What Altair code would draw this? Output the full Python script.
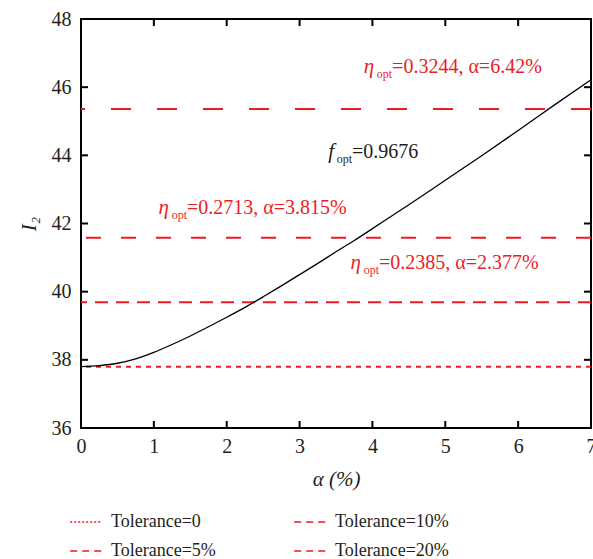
import altair as alt
import pandas as pd

# ---- data ----
alpha = [0, 0.25, 0.5, 0.75, 1, 1.25, 1.5, 1.75, 2, 2.25, 2.5, 2.75, 3, 3.25,
         3.5, 3.75, 4, 4.5, 5, 5.5, 6, 6.5, 7]
I2 = [37.80, 37.83, 37.90, 38.03, 38.22, 38.45, 38.70, 38.97, 39.25, 39.54,
      39.85, 40.17, 40.50, 40.83, 41.17, 41.50, 41.85, 42.55, 43.27, 43.99,
      44.73, 45.48, 46.22]

tol_names = ["Tolerance=0", "Tolerance=5%", "Tolerance=10%", "Tolerance=20%"]
tol_values = [37.80, 39.69, 41.58, 45.36]
dash_range = [[5, 5], [13, 8], [15, 20], [20, 26]]
legend_dash = [[2, 2], [7, 5], [7, 5], [7, 5]]

ann_x = [4.27, 3.72, 1.455, 4.09]
ann_y = [46.6, 44.1, 42.46, 40.84]
ann_sym = ["η", "f", "η", "η"]
ann_rest = ["=0.3244, α=6.42%", "=0.9676", "=0.2713, α=3.815%", "=0.2385, α=2.377%"]
ann_color = ["#ec1c24", "#231f20", "#ec1c24", "#ec1c24"]

x_ticks = [0, 1, 2, 3, 4, 5, 6, 7]
y_ticks = [36, 38, 40, 42, 44, 46, 48]

RED = "#ec1c24"
INK = "#231f20"
FONT = "Liberation Serif"
W, H = 510, 409

curve = pd.DataFrame({"a": alpha, "I": I2})
tol = pd.DataFrame({"name": tol_names, "I": tol_values})
ann = pd.DataFrame({"a": ann_x, "I": ann_y, "sym": ann_sym, "rest": ann_rest, "c": ann_color})
xt = pd.DataFrame({"a": x_ticks})
yt = pd.DataFrame({"I": y_ticks})

xscale = alt.Scale(domain=[0, 7], nice=False, zero=False)
yscale = alt.Scale(domain=[36, 48], nice=False, zero=False)
xaxis = alt.Axis(title="α (%)", values=x_ticks, format="d", domain=False, ticks=False,
                 grid=False, labelFont=FONT, labelFontSize=20, labelColor=INK,
                 labelFlush=False, labelPadding=8, titleFont=FONT, titleFontSize=21,
                 titleColor=INK, titleFontWeight="normal", titleFontStyle="italic",
                 titlePadding=12)
yaxis = alt.Axis(title="I₂", values=y_ticks, format="d", domain=False, ticks=False,
                 grid=False, labelFont=FONT, labelFontSize=20, labelColor=INK,
                 labelFlush=False, labelPadding=10, titleFont=FONT, titleFontSize=21,
                 titleColor=INK, titleFontWeight="normal", titleFontStyle="italic",
                 titlePadding=12)
X = alt.X("a:Q", scale=xscale, axis=xaxis)
Y = alt.Y("I:Q", scale=yscale, axis=yaxis)

line = alt.Chart(curve).mark_line(color="black", strokeWidth=1.3, interpolate="monotone").encode(x=X, y=Y)

rules = alt.Chart(tol).mark_rule(color=RED, strokeWidth=2).encode(
    y=Y,
    strokeDash=alt.StrokeDash("name:N", scale=alt.Scale(domain=tol_names, range=dash_range),
                              legend=None),
)

legend_layer = alt.Chart(tol).mark_rule(color=RED, strokeWidth=0, opacity=0).encode(
    y=Y,
    strokeDash=alt.StrokeDash(
        "name:N",
        scale=alt.Scale(domain=tol_names, range=legend_dash),
        legend=alt.Legend(title=None, orient="none", legendX=-12, legendY=486,
                          columns=2, columnPadding=74, rowPadding=3,
                          symbolType="stroke", symbolSize=1000,
                          symbolStrokeColor=RED, symbolStrokeWidth=1.6,
                          symbolOpacity=1,
                          labelFont=FONT, labelFontSize=18, labelColor=INK,
                          labelOffset=8),
    ),
)

t_bottom = alt.Chart(xt).mark_rule(color="black", strokeWidth=2).encode(
    x=X, y=alt.value(H), y2=alt.value(H - 7))
t_top = alt.Chart(xt).mark_rule(color="black", strokeWidth=2).encode(
    x=X, y=alt.value(0), y2=alt.value(7))
t_left = alt.Chart(yt).mark_rule(color="black", strokeWidth=2).encode(
    y=Y, x=alt.value(0), x2=alt.value(7))
t_right = alt.Chart(yt).mark_rule(color="black", strokeWidth=2).encode(
    y=Y, x=alt.value(W - 7), x2=alt.value(W))

txt_main = alt.Chart(ann).mark_text(align="left", baseline="middle", font=FONT, fontSize=20).encode(
    x=X, y=Y, text="rest:N", color=alt.Color("c:N", scale=None))
txt_sub = alt.Chart(ann).mark_text(align="right", baseline="middle", font=FONT, fontSize=12, dy=7).encode(
    x=X, y=Y, text=alt.value("opt"), color=alt.Color("c:N", scale=None))
txt_sym = alt.Chart(ann).mark_text(align="right", baseline="middle", font=FONT, fontSize=21,
                                   fontStyle="italic", dx=-18).encode(
    x=X, y=Y, text="sym:N", color=alt.Color("c:N", scale=None))

chart = alt.layer(rules, legend_layer, line, t_bottom, t_top, t_left, t_right,
                  txt_main, txt_sub, txt_sym).resolve_scale(strokeDash="independent").properties(
    width=W, height=H,
    autosize=alt.AutoSizeParams(type="none"),
    padding={"left": 81, "top": 19, "right": 2, "bottom": 131},
).configure_view(stroke="black", strokeWidth=2)

chart.save("out.html", embed_options={"renderer": "svg", "actions": False})
